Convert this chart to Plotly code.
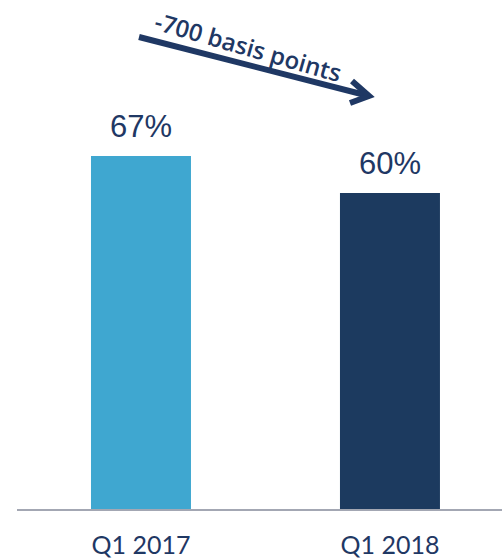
import plotly.graph_objects as go

categories = ["Q1 2017", "Q1 2018"]
values = [67, 60]
bar_colors = ["#3fa7d0", "#1c3a5f"]
change_label = "-700 basis points"

TEXT = "#1f3864"
W, H = 502, 559
L, R, T, B = 17, 0, 0, 49
pw, ph = W - L - R, H - T - B

def px(x, y):
    return (x - L) / pw, (H - B - y) / ph

xs = list(range(len(categories)))
fig = go.Figure()
fig.add_trace(go.Bar(x=xs, y=values, marker=dict(color=bar_colors, line=dict(width=0)),
                     width=0.4016, hoverinfo="skip"))

for xi, v in zip(xs, values):
    fig.add_annotation(x=xi, y=v, text=f"{v}%", showarrow=False, yanchor="bottom",
                       yshift=10, font=dict(family="Liberation Sans, Arial", size=31, color=TEXT))

# arrow shaft and chevron
x0, y0 = px(139, 37)
x1, y1 = px(369, 96)
fig.add_shape(type="line", xref="paper", yref="paper", x0=x0, y0=y0, x1=x1, y1=y1,
              line=dict(color=TEXT, width=6))
a1 = px(352, 81); a2 = px(350, 103)
fig.add_shape(type="path", xref="paper", yref="paper",
              path=f"M {a1[0]} {a1[1]} L {x1} {y1} L {a2[0]} {a2[1]}",
              line=dict(color=TEXT, width=6))
tx, ty = px(248, 46)
fig.add_annotation(xref="paper", yref="paper", x=tx, y=ty, text=change_label, showarrow=False,
                   xanchor="center", yanchor="middle",
                   textangle=16, font=dict(family="Open Sans", size=24, color=TEXT, weight=600))

fig.update_layout(
    width=W, height=H, margin=dict(l=L, r=R, t=T, b=B, autoexpand=False),
    paper_bgcolor="white", plot_bgcolor="white", showlegend=False,
    xaxis=dict(range=[-0.498, 1.45], tickvals=xs, ticktext=categories, showgrid=False,
               zeroline=False, showline=False, ticks="", automargin=False,
               ticklabelstandoff=18,
               tickfont=dict(family="Lato", size=25, color=TEXT), fixedrange=True),
    yaxis=dict(range=[0, 96.5], visible=False, fixedrange=True, automargin=False),
)
fig.add_shape(type="line", xref="paper", yref="paper", x0=0, x1=1, y0=0, y1=0,
              line=dict(color="#a3a7b3", width=2))
fig.write_html("out.html", config={"displayModeBar": False},
               post_script="document.body.style.margin='0';")
